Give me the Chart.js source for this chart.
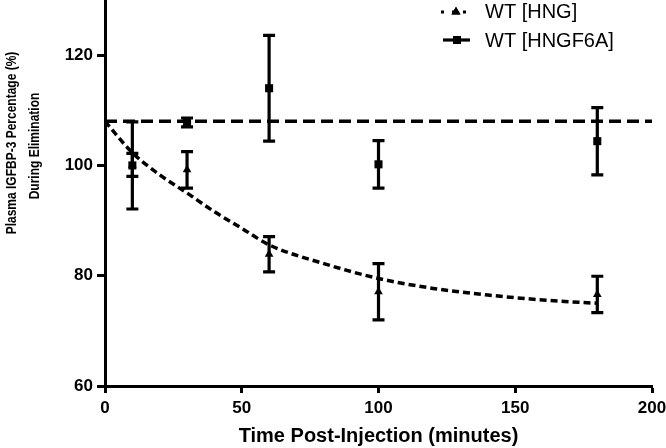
<!DOCTYPE html>
<html>
<head>
<meta charset="utf-8">
<script src="https://cdn.jsdelivr.net/npm/chart.js@4.4.0/dist/chart.umd.min.js"></script>
<style>
  html, body { margin: 0; padding: 0; background: #fff; }
  #wrap { width: 666px; height: 448px; }
</style>
</head>
<body>
<div id="wrap"><canvas id="chart" width="666" height="448"></canvas></div>
<script>
// measured time points (minutes)
const timePoints = [10, 30, 60, 100, 180];

// WT [HNG] - triangles, mean and error
const hngMean = [100.1, 99.2, 83.9, 77.1, 76.6];
const hngErr = [2.1, 3.3, 3.2, 5.1, 3.3];

// WT [HNGF6A] - squares, mean and error
const f6aMean = [100.0, 107.8, 114.0, 100.2, 104.4];
const f6aErr = [7.9, 0.8, 9.6, 4.3, 6.1];

// fitted curves
const hngFitX = [0, 10, 20, 30, 40, 50, 60, 80, 100, 120, 140, 160, 180];
const hngFitY = [108, 102.3, 98.3, 95.0, 91.6, 88.6, 85.6, 82.2, 79.5, 77.7, 76.5, 75.6, 75.0];
const f6aFitX = [0, 200];
const f6aFitY = [108, 108];

const xTicks = [0, 50, 100, 150, 200];
const yTicks = [60, 80, 100, 120];

const seriesNames = ["WT [HNG]", "WT [HNGF6A]"];
const xTitle = "Time Post-Injection (minutes)";
const yTitle = ["Plasma IGFBP-3 Percentage (%)", "During Elimination"];

const black = "#000";
const family = "Arial, 'Liberation Sans', sans-serif";

function points(xs, ys) {
  return xs.map((x, i) => ({ x, y: ys[i] }));
}

const errorBars = {
  id: "errorBars",
  beforeDatasetsDraw(chart) {
    const { ctx, scales: { x, y } } = chart;
    ctx.save();
    ctx.strokeStyle = black;
    ctx.lineWidth = 3.2;
    [[hngMean, hngErr], [f6aMean, f6aErr]].forEach(([mean, err]) => {
      timePoints.forEach((t, i) => {
        const px = x.getPixelForValue(t);
        const top = y.getPixelForValue(mean[i] + err[i]);
        const bot = y.getPixelForValue(mean[i] - err[i]);
        ctx.beginPath();
        ctx.moveTo(px, top);
        ctx.lineTo(px, bot);
        ctx.moveTo(px - 6, top);
        ctx.lineTo(px + 6, top);
        ctx.moveTo(px - 6, bot);
        ctx.lineTo(px + 6, bot);
        ctx.stroke();
      });
    });
    ctx.restore();
  },
};

// y title sits a bit above the axis middle in the original and uses a narrow face,
// so it is drawn by hand (squeezed along the text direction)
const yAxisTitle = {
  id: "yAxisTitle",
  afterDraw(chart) {
    const { ctx } = chart;
    const squeeze = 0.8;
    ctx.save();
    ctx.fillStyle = black;
    ctx.font = "bold 15px " + family;
    ctx.textAlign = "center";
    ctx.textBaseline = "middle";
    ctx.translate(11.5, 143);
    ctx.rotate(-Math.PI / 2);
    ctx.scale(squeeze, 1);
    ctx.fillText(yTitle[0], 0, 0);
    ctx.fillText(yTitle[1], -3 / squeeze, 23);
    ctx.restore();
  },
};

const cornerLegend = {
  id: "cornerLegend",
  afterDraw(chart) {
    const { ctx } = chart;
    ctx.save();
    ctx.fillStyle = black;
    ctx.strokeStyle = black;
    ctx.lineWidth = 3.2;

    // row 1: dotted line + triangle
    ctx.setLineDash([3, 8]);
    ctx.beginPath();
    ctx.moveTo(441, 12);
    ctx.lineTo(469, 12);
    ctx.stroke();
    ctx.setLineDash([]);
    Chart.helpers.drawPoint(ctx, { pointStyle: "triangle", radius: 5.2, borderWidth: 0 }, 456, 12);
    ctx.fill();

    // row 2: solid line + square
    ctx.beginPath();
    ctx.moveTo(443, 40);
    ctx.lineTo(470, 40);
    ctx.stroke();
    ctx.fillRect(453, 36, 8, 8);

    ctx.font = "20px " + family;
    ctx.textBaseline = "middle";
    ctx.fillText(seriesNames[0], 485, 12);
    ctx.fillText(seriesNames[1], 485, 41);
    ctx.restore();
  },
};

const tickFont = { family, size: 17, weight: "bold" };

new Chart(document.getElementById("chart"), {
  type: "scatter",
  data: {
    datasets: [
      {
        label: seriesNames[0],
        data: points(timePoints, hngMean),
        pointStyle: "triangle",
        pointRadius: 5,
        backgroundColor: black,
        borderColor: black,
        borderWidth: 0,
        showLine: false,
      },
      {
        label: seriesNames[1],
        data: points(timePoints, f6aMean),
        pointStyle: "rect",
        pointRadius: 5.7,
        backgroundColor: black,
        borderColor: black,
        borderWidth: 0,
        showLine: false,
      },
      {
        label: "HNG fit",
        data: points(hngFitX, hngFitY),
        showLine: true,
        pointRadius: 0,
        borderColor: black,
        borderWidth: 3.5,
        borderDash: [7, 4],
        cubicInterpolationMode: "monotone",
      },
      {
        label: "HNGF6A fit",
        data: points(f6aFitX, f6aFitY),
        showLine: true,
        pointRadius: 0,
        borderColor: black,
        borderWidth: 3.5,
        borderDash: [12, 6],
      },
    ],
  },
  options: {
    responsive: false,
    animation: false,
    layout: { padding: 0, autoPadding: false },
    plugins: {
      legend: { display: false },
      tooltip: { enabled: false },
    },
    scales: {
      x: {
        type: "linear",
        min: 0,
        max: 200,
        afterBuildTicks: (axis) => { axis.ticks = xTicks.map((v) => ({ value: v })); },
        afterFit: (axis) => {
          axis.height = 62;
          axis.paddingLeft = 0;
          axis.paddingRight = 14;
        },
        border: { display: true, color: black, width: 3 },
        grid: { drawOnChartArea: false, color: black, tickColor: black, tickLength: 7, tickWidth: 3 },
        ticks: { color: black, font: tickFont, padding: 5, maxRotation: 0 },
        title: {
          display: true,
          text: xTitle,
          color: black,
          font: { family, size: 20, weight: "bold", lineHeight: 1.2 },
          padding: { top: 0, bottom: 0 },
        },
      },
      y: {
        type: "linear",
        min: 60,
        max: 130,
        afterBuildTicks: (axis) => { axis.ticks = yTicks.map((v) => ({ value: v })); },
        afterFit: (axis) => {
          axis.width = 105;
          axis.paddingTop = 0;
          axis.paddingBottom = 0;
        },
        border: { display: true, color: black, width: 3 },
        grid: { drawOnChartArea: false, color: black, tickColor: black, tickLength: 8, tickWidth: 3 },
        ticks: { color: black, font: tickFont, padding: 4 },
        title: { display: false },
      },
    },
  },
  plugins: [errorBars, yAxisTitle, cornerLegend],
});
</script>
</body>
</html>
